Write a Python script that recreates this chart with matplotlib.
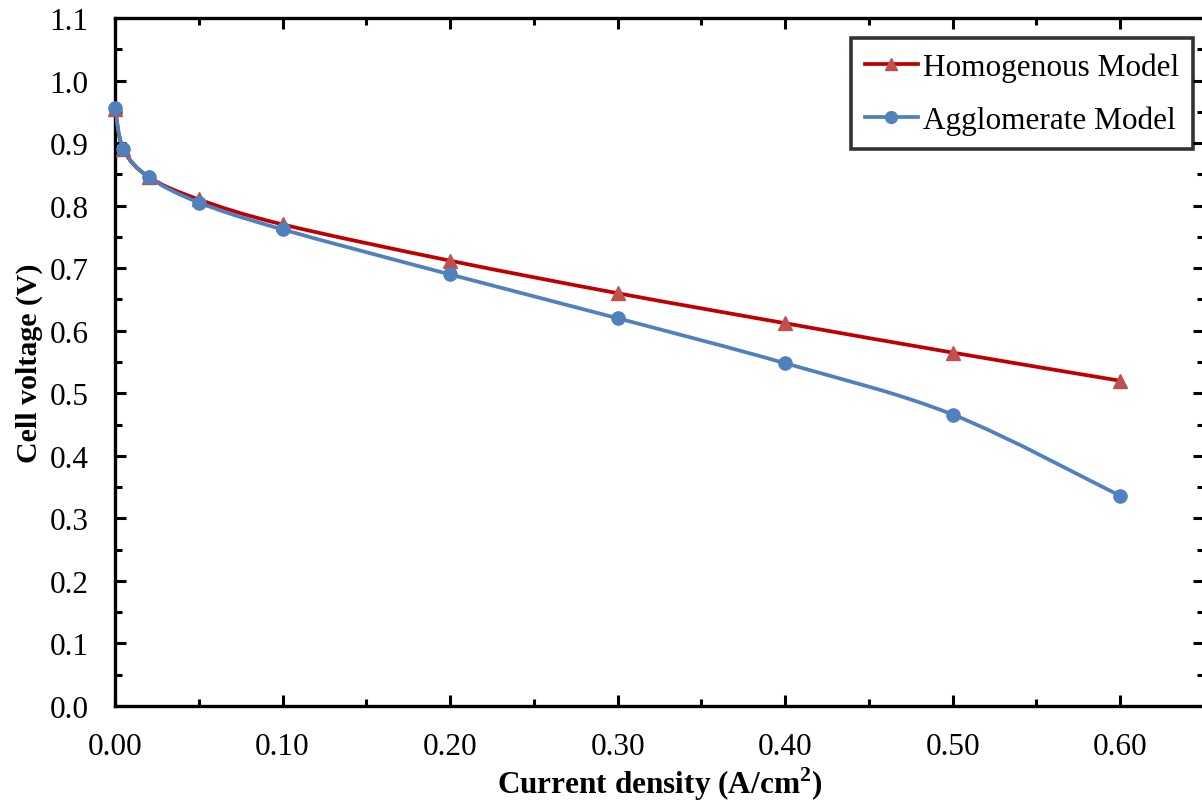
import matplotlib
matplotlib.use('Agg')
import matplotlib.pyplot as plt
from matplotlib.path import Path
from matplotlib.patches import PathPatch
from matplotlib.lines import Line2D
from matplotlib.ticker import MultipleLocator, FormatStrFormatter
import numpy as np

plt.rcParams['font.family'] = ['Liberation Serif', 'DejaVu Serif']
plt.rcParams['mathtext.fontset'] = 'custom'
plt.rcParams['mathtext.rm'] = 'Liberation Serif'
plt.rcParams['mathtext.bf'] = 'Liberation Serif:bold'

# data
current = [0.0, 0.005, 0.02, 0.05, 0.10, 0.20, 0.30, 0.40, 0.50, 0.60]
homogenous = [0.955, 0.890, 0.846, 0.810, 0.770, 0.712, 0.660, 0.612, 0.565, 0.520]
agglomerate = [0.956, 0.891, 0.846, 0.805, 0.762, 0.690, 0.620, 0.548, 0.466, 0.336]
labels = ['Homogenous Model', 'Agglomerate Model']

red_line = '#C00000'
red_mark = '#C0504D'
blue = '#4F81BD'
fs = 22.5


def smooth_path(x, y):
    # Excel-like smoothed line: cubic bezier through every point
    p = np.column_stack([x, y])
    n = len(p)
    verts = [p[0]]
    codes = [Path.MOVETO]
    for i in range(n - 1):
        p0 = p[i - 1] if i > 0 else p[i]
        p3 = p[i + 2] if i + 2 < n else p[i + 1]
        c1 = p[i] + (p[i + 1] - p0) / 6.0
        c2 = p[i + 1] - (p3 - p[i]) / 6.0
        verts += [c1, c2, p[i + 1]]
        codes += [Path.CURVE4] * 3
    return Path(verts, codes)


fig = plt.figure(figsize=(12.02, 8.03), dpi=100)
ax = fig.add_axes([115 / 1202, 1 - 707 / 803, 1089 / 1202, 688 / 803])

ax.add_patch(PathPatch(smooth_path(current, homogenous), fill=False,
                       edgecolor=red_line, lw=2.7, zorder=3))
ax.add_patch(PathPatch(smooth_path(current, agglomerate), fill=False,
                       edgecolor=blue, lw=2.7, zorder=4))
ax.plot(current, homogenous, ls='none', marker='^', ms=10, color=red_mark,
        zorder=5, clip_on=False)
ax.plot(current, agglomerate, ls='none', marker='o', ms=9.5, color=blue,
        zorder=6, clip_on=False)

ax.set_xlim(0, 0.65)
ax.set_ylim(0, 1.1)
ax.xaxis.set_minor_locator(MultipleLocator(0.05))
ax.yaxis.set_major_locator(MultipleLocator(0.1))
ax.yaxis.set_minor_locator(MultipleLocator(0.05))
ax.xaxis.set_major_formatter(FormatStrFormatter('%.2f'))
ax.yaxis.set_major_formatter(FormatStrFormatter('%.1f'))
ax.set_xticks([0, 0.1, 0.2, 0.3, 0.4, 0.5, 0.6])

ax.tick_params(which='both', direction='in', top=True, right=True,
               labelsize=fs, width=2.2, colors='black', pad=19)
ax.tick_params(which='major', length=8)
ax.tick_params(which='minor', length=5)
for s in ax.spines.values():
    s.set_linewidth(2.4)

ax.set_xlabel('Current density (A/cm$^{\\mathbf{2}}$)', fontsize=fs,
              fontweight='bold', labelpad=2)
ax.set_ylabel('Cell voltage (V)', fontsize=fs - 1, fontweight='bold',
              labelpad=5)

handles = [Line2D([], [], color=red_line, lw=2.7, marker='^', ms=8.5,
                  markerfacecolor=red_mark, markeredgecolor=red_mark),
           Line2D([], [], color=blue, lw=2.7, marker='o', ms=8.5)]
leg = ax.legend(handles, labels, loc='upper right',
                bbox_to_anchor=(1 - 11 / 1089, 1 - 20 / 688),
                borderaxespad=0, fontsize=fs, frameon=True, fancybox=False,
                handlelength=1.7, handletextpad=0.16, labelspacing=0.75,
                borderpad=0.45)
leg.get_frame().set_edgecolor('black')
leg.get_frame().set_linewidth(2.6)

fig.savefig('out.png', dpi=100)
